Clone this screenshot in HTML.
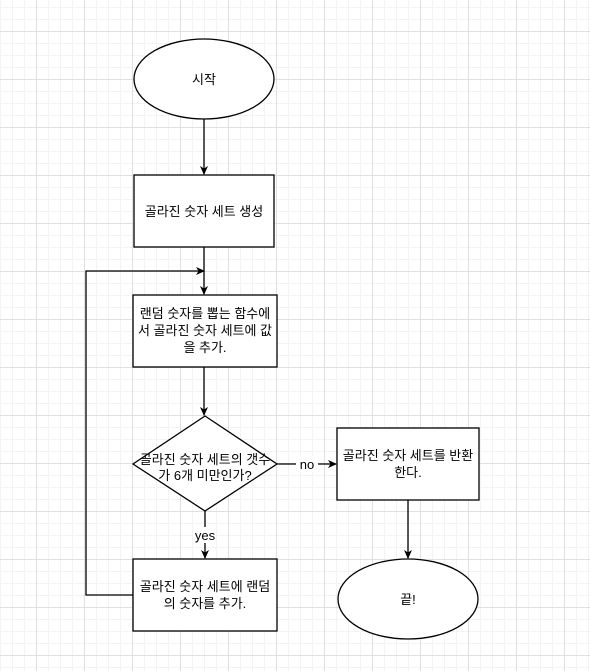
<!DOCTYPE html>
<html><head><meta charset="utf-8"><style>
html,body{margin:0;padding:0;background:#fff;}
body{width:590px;height:671px;overflow:hidden;
background-image:
linear-gradient(#e0e0e0 1px,transparent 1px),
linear-gradient(90deg,#e0e0e0 1px,transparent 1px),
linear-gradient(#f3f3f3 1px,transparent 1px),
linear-gradient(90deg,#f3f3f3 1px,transparent 1px);
background-size:48px 48px,48px 48px,12px 12px,12px 12px;
background-position:0 31px,36px 0,0 7px,0 0;}
svg text{font-family:"Liberation Sans","Noto Sans CJK KR",sans-serif;font-size:13px;fill:#000;}
</style></head><body>
<svg width="590" height="671" xmlns="http://www.w3.org/2000/svg" style="position:absolute;left:0;top:0">
<defs><marker id="a" markerWidth="10" markerHeight="10" refX="8" refY="4" orient="auto" markerUnits="userSpaceOnUse"><path d="M0,0 L9,4 L0,8 L2.5,4 Z" fill="#000"/></marker></defs>
<g stroke="#000" stroke-width="1.3" fill="#fff">
<ellipse cx="204" cy="79" rx="70" ry="40"/>
<rect x="134" y="175" width="140" height="72"/>
<rect x="133" y="295" width="144" height="72"/>
<polygon points="205,416 277,464 205,511 133,464"/>
<rect x="337" y="428" width="142" height="72"/>
<rect x="133" y="559" width="144" height="72"/>
<ellipse cx="408" cy="599" rx="70" ry="40"/>
</g>
<g stroke="#000" stroke-width="1.3" fill="none" marker-end="url(#a)">
<line x1="204" y1="119" x2="204" y2="174"/>
<line x1="204" y1="247" x2="204" y2="294"/>
<line x1="204" y1="367" x2="204" y2="415"/>
<line x1="205" y1="511" x2="205" y2="558"/>
<line x1="277" y1="464" x2="336" y2="464"/>
<line x1="408" y1="500" x2="408" y2="558"/>
<polyline points="133,595 86,595 86,271 204,271"/>
</g>
<rect x="194" y="527" width="22" height="16" fill="#fff"/>
<rect x="296" y="456" width="22" height="16" fill="#fff"/>
<g text-anchor="middle">
<text x="204" y="84">시작</text>
<text x="204" y="216">골라진 숫자 세트 생성</text>
<text x="205" y="318">랜덤 숫자를 뽑는 함수에</text>
<text x="205" y="335">서 골라진 숫자 세트에 값</text>
<text x="205" y="352">을 추가.</text>
<text x="205" y="464">골라진 숫자 세트의 갯수</text>
<text x="205" y="480">가 6개 미만인가?</text>
<text x="205" y="540">yes</text>
<text x="307" y="469">no</text>
<text x="408" y="460">골라진 숫자 세트를 반환</text>
<text x="408" y="477">한다.</text>
<text x="205" y="591">골라진 숫자 세트에 랜덤</text>
<text x="205" y="608">의 숫자를 추가.</text>
<text x="408" y="604">끝!</text>
</g>
</svg>
</body></html>
